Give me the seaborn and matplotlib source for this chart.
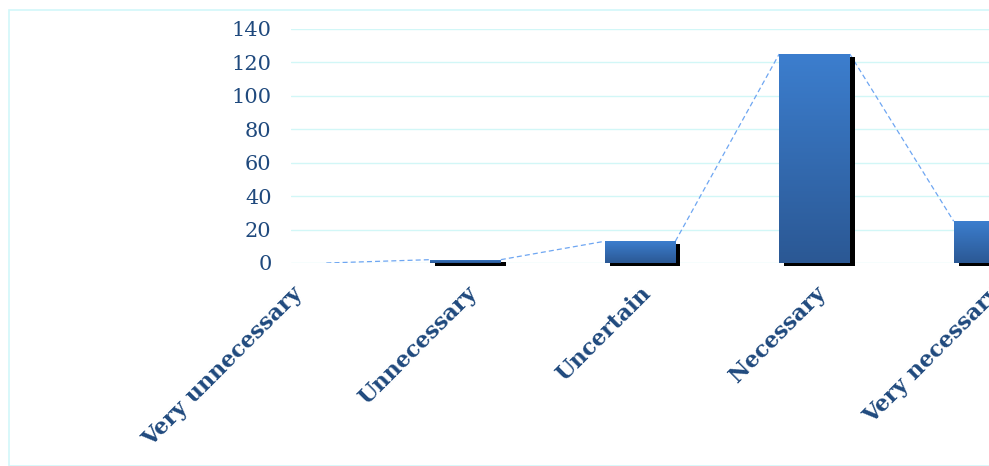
import matplotlib
matplotlib.use("Agg")
import matplotlib.pyplot as plt
import matplotlib.patheffects as pe
from matplotlib.colors import LinearSegmentedColormap
from matplotlib.patches import Rectangle
import numpy as np
import pandas as pd
import seaborn as sns

categories = ["Very unnecessary", "Unnecessary", "Uncertain", "Necessary", "Very necessary"]
values = [0, 2, 13, 125, 25]
y_ticks = [0, 20, 40, 60, 80, 100, 120, 140]

sns.set_theme(style="white")
plt.rcParams["font.family"] = ["DejaVu Serif", "DejaVu Sans"]

W, H = 989, 466
fig = plt.figure(figsize=(W / 100, H / 100), dpi=100)
fig.patch.set_facecolor("white")
# outer chart border
fig.add_artist(Rectangle((9 / W, 0), 1.2, (H - 10) / H, transform=fig.transFigure,
                         fill=False, edgecolor="#D2F7F9", linewidth=1.2))

ax = fig.add_axes([291 / W, (H - 263) / H, (W - 291) / W, (263 - 29) / H])
df = pd.DataFrame({"cat": categories, "val": values})
bw = 0.405
sns.barplot(data=df, x="cat", y="val", color="#3070B8", width=bw, ax=ax,
            saturation=1, edgecolor="none", zorder=3)

txt_color = "#1F497D"
cmap = LinearSegmentedColormap.from_list("g", ["#2B5894", "#3C7ECE"])
grad = np.linspace(0, 1, 256).reshape(-1, 1)
for p in ax.patches:
    h = p.get_height()
    if h <= 0:
        p.set_visible(False)
        continue
    p.set_clip_on(False)
    p.set_path_effects([pe.SimplePatchShadow(offset=(3.6, -2.0), shadow_rgbFace="black", alpha=1.0),
                        pe.Normal()])
    x0 = p.get_x()
    im = ax.imshow(grad, extent=[x0, x0 + p.get_width(), 0, h], origin="lower",
                   aspect="auto", cmap=cmap, zorder=4)
    im.set_clip_path(p)

# series lines: right top corner of one bar to left top corner of next
for i in range(len(values) - 1):
    ax.plot([i + bw / 2, i + 1 - bw / 2], [values[i], values[i + 1]],
            linestyle=(0, (4, 2.5)), color="#6EA6F2", linewidth=0.9, zorder=2)

ax.set_xlim(0, 4)
ax.set_ylim(0, 140)
ax.set_yticks(y_ticks)
ax.set_yticklabels([str(t) for t in y_ticks], fontsize=15, color=txt_color)
ax.set_xticks(range(len(categories)))
ax.set_xticklabels(categories, rotation=45, ha="right", rotation_mode="anchor",
                   fontsize=16, fontweight="bold", color=txt_color)
ax.tick_params(axis="both", length=0)
ax.tick_params(axis="y", pad=14)
ax.tick_params(axis="x", pad=14)
ax.set_xlabel("")
ax.set_ylabel("")
ax.yaxis.grid(True, color="#D2F7F7", linewidth=1.0, zorder=0)
ax.set_axisbelow(True)
for s in ax.spines.values():
    s.set_visible(False)

fig.savefig("out.png", dpi=100)
